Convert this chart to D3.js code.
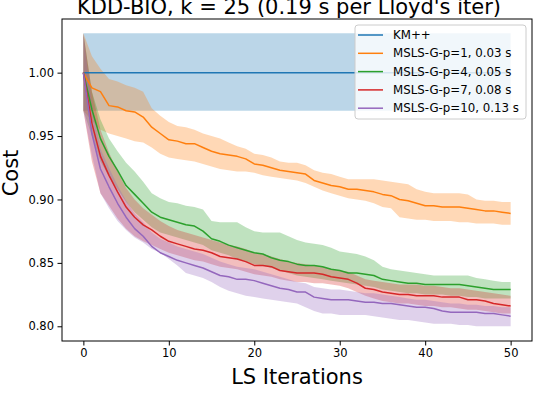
<!DOCTYPE html>
<html>
<head>
<meta charset="utf-8">
<script src="https://cdn.jsdelivr.net/npm/d3@7"></script>
<style>
  body { margin: 0; background: #fff; }
  text { font-family: "DejaVu Sans", sans-serif; fill: #000; }
</style>
</head>
<body>
<div id="container"></div>
<script>
// LS iteration index 0..50
let iters = d3.range(0, 51);

let seriesNames = ["KM++", "MSLS-G-p=1, 0.03 s", "MSLS-G-p=4, 0.05 s", "MSLS-G-p=7, 0.08 s", "MSLS-G-p=10, 0.13 s"];
let colors = ["#1f77b4", "#ff7f0e", "#2ca02c", "#d62728", "#9467bd"];

// KM++ is flat
let kmMean = 1.0;
let kmLow = 0.97;
let kmHigh = 1.031;

let p1Mean = [1.000,0.988,0.985,0.974,0.973,0.970,0.969,0.965,0.957,0.952,0.947,0.946,0.944,0.944,0.941,0.938,0.936,0.935,0.934,0.932,0.928,0.927,0.925,0.923,0.922,0.921,0.920,0.915,0.913,0.911,0.910,0.908,0.908,0.907,0.906,0.904,0.903,0.900,0.899,0.897,0.895,0.895,0.894,0.894,0.894,0.893,0.892,0.891,0.891,0.890,0.889];
let p1High = [1.031,1.013,1.003,0.995,0.993,0.990,0.988,0.985,0.972,0.966,0.961,0.958,0.957,0.955,0.952,0.950,0.948,0.945,0.942,0.940,0.936,0.935,0.933,0.930,0.929,0.929,0.927,0.923,0.921,0.920,0.918,0.916,0.916,0.916,0.916,0.915,0.914,0.913,0.912,0.908,0.906,0.905,0.905,0.905,0.905,0.904,0.900,0.899,0.899,0.898,0.898];
let p1Low = [0.970,0.962,0.955,0.952,0.950,0.948,0.946,0.945,0.941,0.936,0.933,0.932,0.931,0.930,0.928,0.926,0.924,0.923,0.922,0.922,0.921,0.919,0.918,0.917,0.916,0.915,0.913,0.910,0.907,0.905,0.903,0.901,0.900,0.899,0.897,0.894,0.893,0.886,0.885,0.884,0.884,0.883,0.883,0.883,0.882,0.882,0.881,0.881,0.881,0.880,0.880];

let p4Mean = [1.000,0.971,0.948,0.934,0.923,0.911,0.904,0.897,0.890,0.886,0.884,0.882,0.880,0.879,0.875,0.869,0.867,0.864,0.862,0.860,0.858,0.857,0.854,0.852,0.851,0.849,0.848,0.848,0.847,0.845,0.844,0.842,0.842,0.841,0.840,0.837,0.836,0.835,0.834,0.834,0.833,0.833,0.833,0.833,0.833,0.832,0.831,0.830,0.829,0.829,0.829];
let p4High = [1.031,0.985,0.963,0.948,0.938,0.929,0.922,0.914,0.905,0.901,0.898,0.897,0.895,0.894,0.892,0.883,0.882,0.882,0.882,0.878,0.875,0.874,0.874,0.874,0.871,0.868,0.866,0.865,0.864,0.862,0.859,0.858,0.857,0.855,0.852,0.847,0.845,0.844,0.843,0.842,0.841,0.840,0.840,0.840,0.840,0.840,0.838,0.837,0.836,0.835,0.835];
let p4Low = [0.970,0.950,0.930,0.918,0.908,0.898,0.890,0.884,0.878,0.874,0.872,0.870,0.868,0.866,0.864,0.860,0.858,0.856,0.853,0.851,0.849,0.848,0.846,0.844,0.842,0.840,0.839,0.838,0.837,0.836,0.835,0.834,0.833,0.832,0.831,0.829,0.828,0.827,0.826,0.826,0.825,0.825,0.825,0.824,0.824,0.823,0.823,0.822,0.822,0.822,0.822];

let p7Mean = [1.000,0.960,0.934,0.919,0.906,0.894,0.886,0.880,0.876,0.871,0.867,0.865,0.863,0.861,0.860,0.858,0.855,0.854,0.853,0.851,0.848,0.848,0.847,0.844,0.843,0.842,0.842,0.842,0.841,0.839,0.838,0.837,0.834,0.830,0.829,0.827,0.826,0.825,0.825,0.824,0.824,0.824,0.823,0.823,0.823,0.821,0.821,0.820,0.818,0.817,0.816];
let p7High = [1.031,0.985,0.955,0.937,0.922,0.909,0.900,0.893,0.888,0.883,0.879,0.876,0.874,0.872,0.870,0.868,0.866,0.864,0.863,0.861,0.858,0.857,0.855,0.853,0.851,0.850,0.849,0.848,0.847,0.845,0.844,0.843,0.840,0.837,0.836,0.835,0.834,0.833,0.833,0.833,0.832,0.832,0.831,0.830,0.830,0.829,0.828,0.827,0.826,0.825,0.824];
let p7Low = [0.970,0.930,0.905,0.895,0.885,0.877,0.871,0.867,0.864,0.861,0.858,0.856,0.854,0.852,0.851,0.849,0.847,0.846,0.845,0.843,0.841,0.840,0.839,0.837,0.836,0.835,0.835,0.834,0.834,0.833,0.832,0.830,0.827,0.824,0.822,0.820,0.819,0.818,0.818,0.817,0.816,0.816,0.815,0.815,0.814,0.813,0.813,0.812,0.811,0.810,0.810];

let p10Mean = [1.000,0.952,0.924,0.910,0.897,0.886,0.877,0.871,0.863,0.858,0.855,0.852,0.850,0.848,0.846,0.843,0.840,0.839,0.837,0.837,0.836,0.834,0.832,0.830,0.829,0.827,0.827,0.823,0.822,0.821,0.821,0.821,0.820,0.819,0.819,0.818,0.818,0.817,0.816,0.815,0.815,0.814,0.812,0.811,0.811,0.811,0.811,0.810,0.810,0.809,0.808];
let p10High = [1.031,0.975,0.940,0.925,0.911,0.899,0.889,0.882,0.874,0.869,0.866,0.863,0.861,0.859,0.857,0.854,0.851,0.849,0.847,0.846,0.845,0.843,0.841,0.839,0.837,0.835,0.834,0.831,0.830,0.829,0.829,0.828,0.827,0.826,0.826,0.825,0.824,0.823,0.822,0.821,0.821,0.820,0.819,0.818,0.818,0.817,0.817,0.816,0.816,0.815,0.815];
let p10Low = [0.970,0.935,0.905,0.893,0.883,0.876,0.870,0.866,0.861,0.858,0.853,0.848,0.842,0.840,0.838,0.835,0.831,0.828,0.826,0.824,0.823,0.822,0.821,0.820,0.819,0.818,0.815,0.812,0.810,0.810,0.809,0.809,0.809,0.809,0.808,0.807,0.806,0.805,0.805,0.804,0.803,0.802,0.802,0.802,0.801,0.801,0.800,0.800,0.800,0.800,0.800];

let xTicks = [0, 10, 20, 30, 40, 50];
let yTicks = [0.80, 0.85, 0.90, 0.95, 1.00];

let w = 538;
let h = 396;
let mLeft = 62, mRight = 532, mTop = 19, mBottom = 341;

let series = [
  {mean: iters.map(() => kmMean), low: iters.map(() => kmLow), high: iters.map(() => kmHigh)},
  {mean: p1Mean, low: p1Low, high: p1High},
  {mean: p4Mean, low: p4Low, high: p4High},
  {mean: p7Mean, low: p7Low, high: p7High},
  {mean: p10Mean, low: p10Low, high: p10High}
];

let x = d3.scaleLinear().domain([-2.5, 52.5]).range([mLeft, mRight]);
let y = d3.scaleLinear().domain([0.7884, 1.0423]).range([mBottom, mTop]);

let viz = d3.select("#container")
  .append("svg")
    .attr("width", w)
    .attr("height", h)
    .style("background-color", "white");

viz.append("clipPath").attr("id", "plotClip")
  .append("rect")
    .attr("x", mLeft).attr("y", mTop)
    .attr("width", mRight - mLeft).attr("height", mBottom - mTop);

let plot = viz.append("g").attr("clip-path", "url(#plotClip)");

let area = d3.area()
  .x((d, i) => x(iters[i]))
  .y0(d => y(d[0]))
  .y1(d => y(d[1]));

let line = d3.line()
  .x((d, i) => x(iters[i]))
  .y(d => y(d));

// bands first
series.forEach((s, k) => {
  plot.append("path")
    .datum(iters.map((d, i) => [s.low[i], s.high[i]]))
    .attr("d", area)
    .attr("fill", colors[k])
    .attr("fill-opacity", 0.3)
    .attr("stroke", "none");
});

// then mean lines
series.forEach((s, k) => {
  plot.append("path")
    .datum(s.mean)
    .attr("d", line)
    .attr("fill", "none")
    .attr("stroke", colors[k])
    .attr("stroke-width", 1.5)
    .attr("stroke-linejoin", "round");
});

// axes
let xAxis = d3.axisBottom(x).tickValues(xTicks).tickSize(4.5).tickPadding(3.5).tickFormat(d3.format("d"));
let yAxis = d3.axisLeft(y).tickValues(yTicks).tickSize(4.5).tickPadding(3.5).tickFormat(d3.format(".2f"));

let gx = viz.append("g").attr("transform", `translate(0,${mBottom})`).call(xAxis);
let gy = viz.append("g").attr("transform", `translate(${mLeft},0)`).call(yAxis);
[gx, gy].forEach(g => {
  g.select(".domain").remove();
  g.selectAll("text").style("font-family", "DejaVu Sans").style("font-size", "11.5px").attr("fill", "#000");
  g.selectAll("line").attr("stroke", "#000").attr("stroke-width", 1);
});

viz.append("rect")
  .attr("x", mLeft).attr("y", mTop)
  .attr("width", mRight - mLeft).attr("height", mBottom - mTop)
  .attr("fill", "none").attr("stroke", "#000").attr("stroke-width", 1);

// title + labels (title sits at the top edge, as in the source figure)
viz.append("text")
  .attr("x", 289).attr("y", 14)
  .attr("text-anchor", "middle")
  .style("font-size", "21px")
  .text("KDD-BIO, k = 25 (0.19 s per Lloyd's iter)");

viz.append("text")
  .attr("x", (mLeft + mRight) / 2).attr("y", 384)
  .attr("text-anchor", "middle")
  .style("font-size", "21px")
  .text("LS Iterations");

viz.append("text")
  .attr("transform", `translate(18,${(mTop + mBottom) / 2 - 7}) rotate(-90)`)
  .attr("text-anchor", "middle")
  .style("font-size", "21px")
  .text("Cost");

// legend
let legend = viz.append("g").attr("transform", "translate(355,25)");
legend.append("rect")
  .attr("x", 0).attr("y", 0)
  .attr("width", 171).attr("height", 94)
  .attr("rx", 3)
  .attr("fill", "white").attr("fill-opacity", 0.8)
  .attr("stroke", "#ccc");

seriesNames.forEach((name, k) => {
  let ly = 10 + k * 18.3;
  legend.append("line")
    .attr("x1", 3).attr("x2", 28)
    .attr("y1", ly).attr("y2", ly)
    .attr("stroke", colors[k]).attr("stroke-width", 1.5);
  legend.append("text")
    .attr("x", 38).attr("y", ly + 4)
    .style("font-size", "11.8px")
    .text(name);
});
</script>
</body>
</html>
